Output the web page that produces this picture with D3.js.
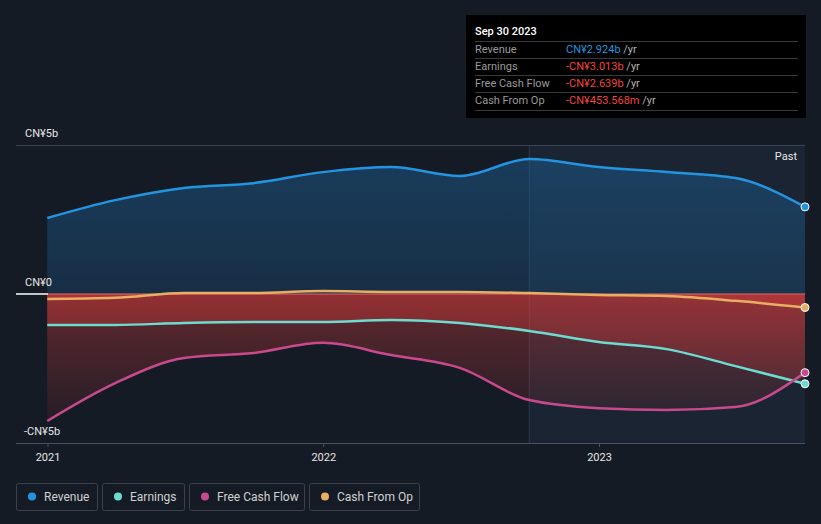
<!DOCTYPE html>
<html><head><meta charset="utf-8">
<script src="https://cdnjs.cloudflare.com/ajax/libs/d3/7.8.5/d3.min.js"></script>
<style>
html,body{margin:0;padding:0;background:#151b25;}
svg{display:block;font-family:Roboto,"Noto Sans",sans-serif;}
</style></head><body>
<svg id="c" width="821" height="524"></svg>
<script>
const dates = ["2020-12-31","2021-03-31","2021-06-30","2021-09-30","2021-12-31","2022-03-31","2022-06-30","2022-09-30","2022-12-31","2023-03-31","2023-06-30","2023-09-30"];
const revenue = [2.55,3.15,3.56,3.72,4.09,4.26,3.96,4.53,4.26,4.09,3.89,2.924];
const earnings = [-1.04,-1.04,-0.97,-0.94,-0.94,-0.87,-0.97,-1.24,-1.61,-1.85,-2.42,-3.013];
const freeCashFlow = [-4.26,-2.99,-2.15,-1.98,-1.64,-2.05,-2.48,-3.56,-3.83,-3.89,-3.79,-2.639];
const cashFromOp = [-0.17,-0.13,0.03,0.03,0.10,0.07,0.07,0.03,-0.03,-0.07,-0.23,-0.454];
const yTicks = [5,0,-5];
const yTickLabels = ["CN¥5b","CN¥0","-CN¥5b"];
const xTicks = ["2021-01-01","2022-01-01","2023-01-01"];
const xTickLabels = ["2021","2022","2023"];
const pastStart = "2022-09-30";
const seriesNames = ["Revenue","Earnings","Free Cash Flow","Cash From Op"];
const colors = ["#2394df","#6cdcd0","#c94a8c","#e8ae62"];
const tooltipDate = "Sep 30 2023";
const tooltipValues = ["CN¥2.924b","-CN¥3.013b","-CN¥2.639b","-CN¥453.568m"];

const parse = d3.timeParse("%Y-%m-%d");
const D = dates.map(parse);
const svg = d3.select("#c");
const x = d3.scaleTime().domain([parse("2021-01-01"), D[D.length-1]]).range([48,805]);
const y = d3.scaleLinear().domain([-5,5]).range([443,145]);
const X0 = 16, X1 = 805;

const defs = svg.append("defs");
const gb = defs.append("linearGradient").attr("id","gb").attr("x1",0).attr("x2",0).attr("gradientUnits","userSpaceOnUse")
  .attr("y1",y(5)).attr("y2",y(0));
gb.append("stop").attr("offset",0).attr("stop-color","#1c5a8c").attr("stop-opacity",0.55);
gb.append("stop").attr("offset",1).attr("stop-color","#1c5a8c").attr("stop-opacity",0.3);
const gr = defs.append("linearGradient").attr("id","gr").attr("x1",0).attr("x2",0).attr("gradientUnits","userSpaceOnUse")
  .attr("y1",y(0)).attr("y2",y(-5));
gr.append("stop").attr("offset",0).attr("stop-color","#d23a3a").attr("stop-opacity",0.42);
gr.append("stop").attr("offset",1).attr("stop-color","#d23a3a").attr("stop-opacity",0.02);

// past region background
const px = x(parse(pastStart));
svg.append("rect").attr("x",px).attr("y",y(5)).attr("width",X1-px).attr("height",y(-5)-y(5)+1)
  .attr("fill","#1a2432");
svg.append("line").attr("x1",px).attr("x2",px).attr("y1",y(5)).attr("y2",y(-5))
  .attr("stroke","#2a3a4e").attr("stroke-width",1);

// gridline top
svg.append("line").attr("x1",X0).attr("x2",X1).attr("y1",y(5)+0.5).attr("y2",y(5)+0.5).attr("stroke","#3c4350").attr("stroke-width",1);

const curve = d3.curveMonotoneX;
const idx = d3.range(dates.length);
// revenue area
svg.append("path").datum(idx).attr("fill","url(#gb)")
  .attr("d", d3.area().curve(curve).x(i=>x(D[i])).y0(y(0)).y1(i=>y(revenue[i])));
// negative areas
[freeCashFlow, earnings, cashFromOp].forEach(s=>{
  svg.append("path").datum(idx).attr("fill","url(#gr)")
    .attr("d", d3.area().curve(curve).x(i=>x(D[i])).y0(y(0)).y1(i=>y(Math.min(0,s[i]))));
});

// zero line
svg.append("line").attr("x1",X0).attr("x2",x.range()[0]).attr("y1",y(0)).attr("y2",y(0)).attr("stroke","#ffffff").attr("stroke-width",1.5);
svg.append("line").attr("x1",x.range()[0]).attr("x2",X1).attr("y1",y(0)).attr("y2",y(0)).attr("stroke","#e06a6a").attr("stroke-width",1);

// lines
const all = [revenue, earnings, freeCashFlow, cashFromOp];
const order = [3,1,2,0];
order.forEach(k=>{
  svg.append("path").datum(idx).attr("fill","none").attr("stroke",colors[k]).attr("stroke-width",2.5)
    .attr("d", d3.line().curve(curve).x(i=>x(D[i])).y(i=>y(all[k][i])));
});
order.forEach(k=>{
  const i = dates.length-1;
  svg.append("circle").attr("cx",x(D[i])).attr("cy",y(all[k][i])).attr("r",4)
    .attr("fill",colors[k]).attr("stroke","#fff").attr("stroke-width",1);
});

// bottom axis
svg.append("line").attr("x1",X0).attr("x2",X1).attr("y1",y(-5)+0.5).attr("y2",y(-5)+0.5).attr("stroke","#4a505c").attr("stroke-width",1);
xTicks.forEach((t,j)=>{
  const xx = x(parse(t));
  svg.append("line").attr("x1",xx).attr("x2",xx).attr("y1",y(-5)).attr("y2",y(-5)+4).attr("stroke","#4a505c");
  svg.append("text").attr("x",xx).attr("y",461).attr("text-anchor","middle").attr("fill","#e6e6e6").attr("font-size",11).text(xTickLabels[j]);
});
// y labels
yTicks.forEach((t,j)=>{
  svg.append("text").attr("x", t<0?24:25).attr("y",y(t)-8).attr("fill","#e6e6e6").attr("font-size",11).text(yTickLabels[j]);
});
svg.append("text").attr("x",797).attr("y",160).attr("text-anchor","end").attr("fill","#e6e6e6").attr("font-size",11).text("Past");

// tooltip
const tt = svg.append("g");
tt.append("rect").attr("x",466).attr("y",15).attr("width",340).attr("height",103).attr("fill","#000");
tt.append("text").attr("x",475).attr("y",35).attr("fill","#fff").attr("font-size",11).attr("font-weight",500).text(tooltipDate);
const rowY = [41,58,75,92,110];
rowY.forEach(yy=>tt.append("line").attr("x1",475).attr("x2",798).attr("y1",yy+0.5).attr("y2",yy+0.5).attr("stroke","#3a3a3a"));
seriesNames.forEach((n,j)=>{
  const by = rowY[j]+12;
  tt.append("text").attr("x",475).attr("y",by).attr("fill","#9a9a9a").attr("font-size",11).text(n);
  const t = tt.append("text").attr("x",566).attr("y",by).attr("font-size",11);
  t.append("tspan").attr("fill", j===0?"#2394df":"#f0463c").text(tooltipValues[j]);
  t.append("tspan").attr("fill","#b0b0b0").text(" /yr");
});

// legend
const lg = svg.append("g");
let lx = 16;
const widths = [81,82,115,110];
seriesNames.forEach((n,j)=>{
  const g = lg.append("g").attr("transform",`translate(${lx},483)`);
  g.append("rect").attr("x",0.5).attr("y",0.5).attr("width",widths[j]).attr("height",27).attr("rx",2)
    .attr("fill","none").attr("stroke","#3c424d");
  g.append("circle").attr("cx",16).attr("cy",13.5).attr("r",4).attr("fill",colors[j]);
  g.append("text").attr("x",28).attr("y",17.5).attr("fill","#d0d0d0").attr("font-size",12).text(n);
  lx += widths[j]+5;
});
</script></body></html>
